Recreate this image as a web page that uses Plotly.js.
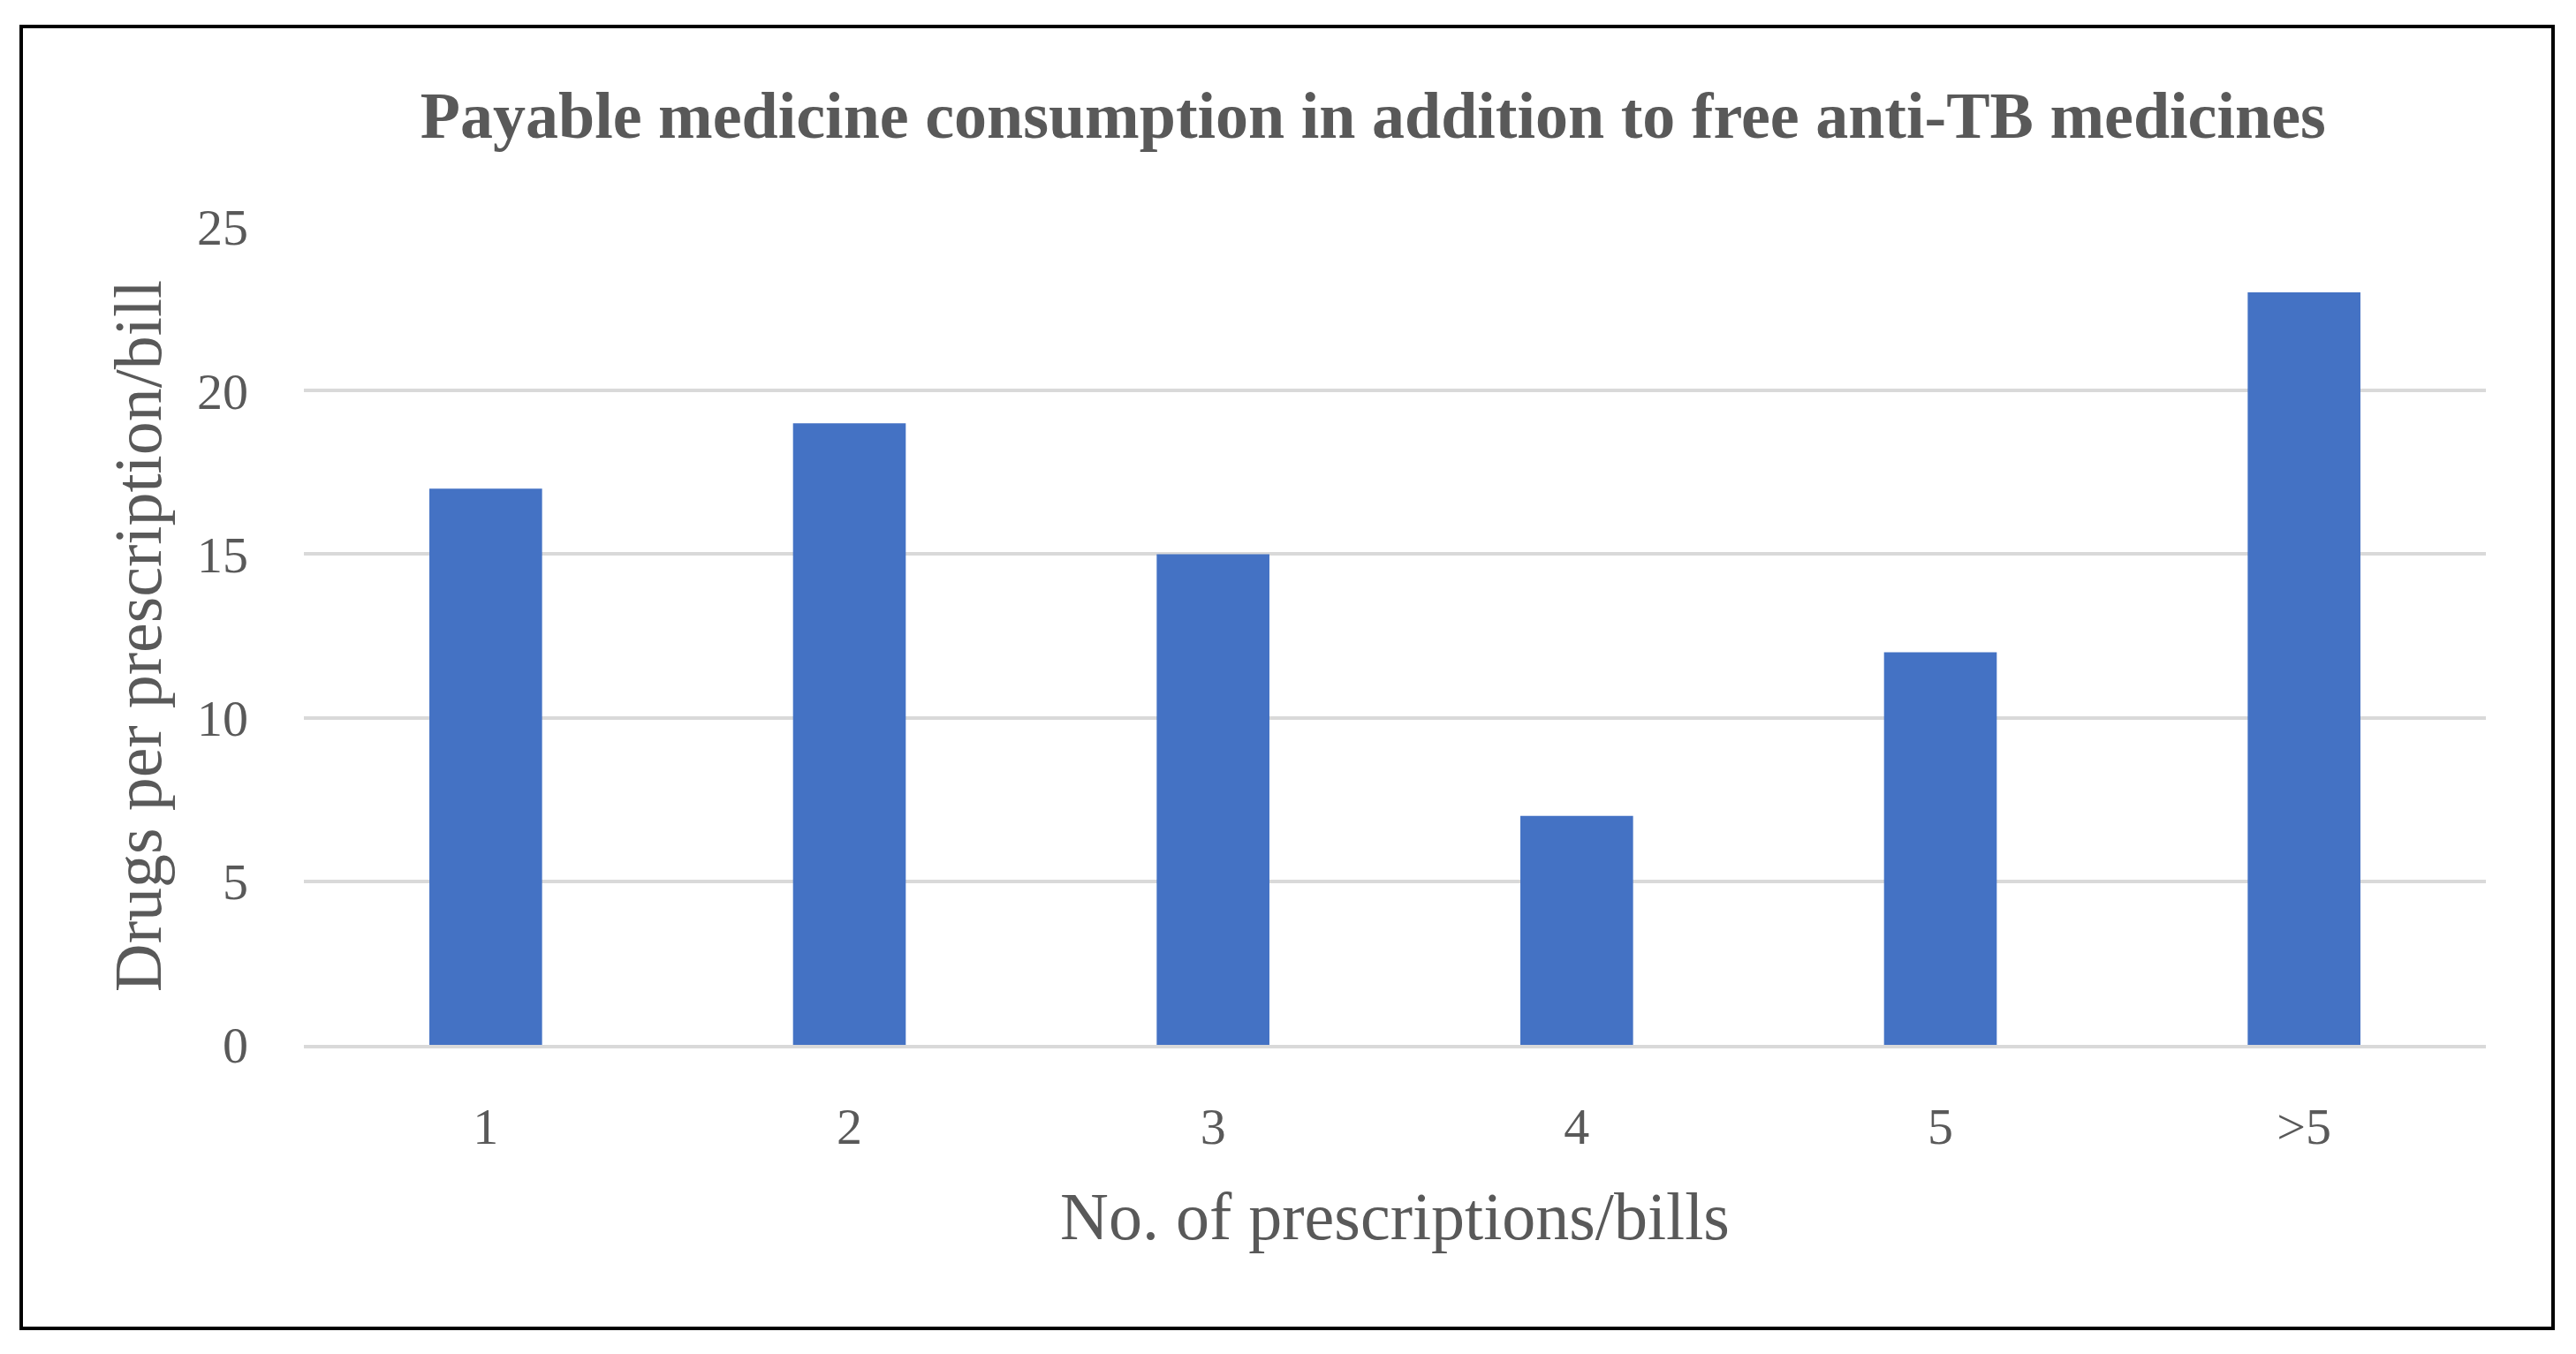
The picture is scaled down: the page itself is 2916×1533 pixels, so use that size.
<!DOCTYPE html>
<html>
<head>
<meta charset="utf-8">
<script src="https://cdn.plot.ly/plotly-3.0.1.min.js"></script>
<style>
  html, body { margin: 0; padding: 0; background: #ffffff; width: 2916px; height: 1533px; overflow: hidden; }
  #frame { position: absolute; left: 22px; top: 28px; width: 2862px; height: 1470px; border: 4px solid #000000; background: #ffffff; }
  #chart { width: 2862px; height: 1470px; }
</style>
</head>
<body>
<div id="frame"><div id="chart"></div></div>
<script>
const categories = ["1", "2", "3", "4", "5", ">5"];
const drugsPerPrescription = [17, 19, 15, 7, 12, 23];
const yTickValues = [0, 5, 10, 15, 20, 25];

const chartTitle = "Payable medicine consumption in addition to free anti-TB medicines";
const xTitle = "No. of prescriptions/bills";
const yTitle = "Drugs per prescription/bill";

const serif = "'Liberation Serif', 'DejaVu Serif', serif";

const trace = {
  type: "bar",
  x: categories,
  y: drugsPerPrescription,
  marker: { color: "#4472C4", line: { width: 0 } },
  hoverinfo: "x+y"
};

const layout = {
  width: 2862,
  height: 1470,
  paper_bgcolor: "#ffffff",
  plot_bgcolor: "#ffffff",
  margin: { l: 318, r: 74, t: 225, b: 319 },
  bargap: 0.69,
  showlegend: false,
  title: {
    text: "<b>" + chartTitle + "</b>",
    font: { family: serif, size: 74, color: "#595959" },
    x: 0.534, xref: "container", xanchor: "center",
    y: 1 - 98 / 1470, yref: "container", yanchor: "middle"
  },
  xaxis: {
    type: "category",
    tickfont: { family: serif, size: 58, color: "#595959" },
    ticks: "",
    ticklabelstandoff: 38,
    showgrid: false,
    showline: true,
    linecolor: "#D9D9D9",
    linewidth: 4,
    zeroline: false,
    automargin: false,
    title: { text: xTitle, font: { family: serif, size: 76, color: "#595959" }, standoff: 44 }
  },
  yaxis: {
    range: [0, 25],
    tickvals: yTickValues,
    tickfont: { family: serif, size: 58, color: "#595959" },
    ticks: "",
    ticklabelstandoff: 62,
    showgrid: true,
    gridcolor: "#D9D9D9",
    gridwidth: 4,
    zeroline: false,
    showline: false,
    automargin: false,
    title: { text: yTitle, font: { family: serif, size: 76, color: "#595959" }, standoff: 15 }
  }
};

Plotly.newPlot("chart", [trace], layout, { displayModeBar: false, staticPlot: true });
</script>
</body>
</html>
